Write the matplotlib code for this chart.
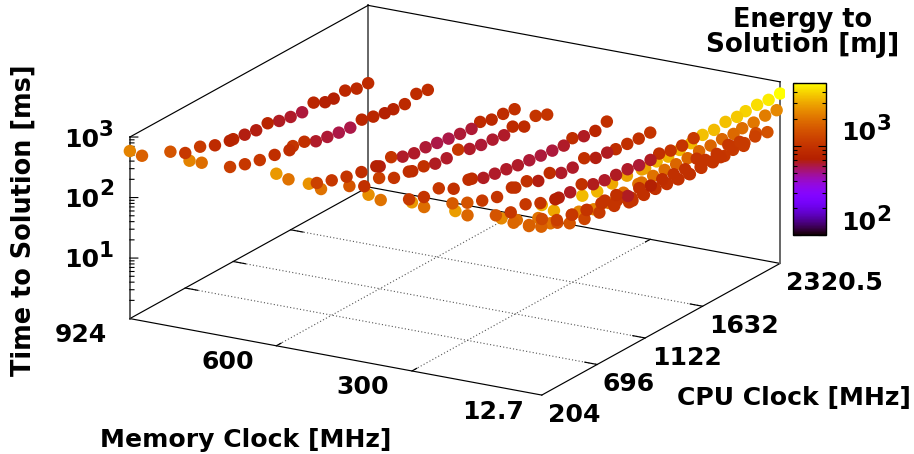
import numpy as np
import matplotlib
matplotlib.use('Agg')
import matplotlib.pyplot as plt
from matplotlib.colors import LogNorm
from matplotlib.cm import ScalarMappable
from matplotlib.ticker import LogLocator, NullFormatter

W, H = 914, 454

cpu_clock = [204, 312, 564, 696, 828, 960, 1092, 1122, 1224, 1326, 1428, 1530, 1632, 1734,
             1836, 1938, 2014.5, 2116.5, 2218.5, 2320.5]
mem_clock = [12.75, 20.4, 40.8, 68, 102, 204, 300, 396, 528, 600, 792, 924]

# time to solution [ms], one row per memory clock
time_12 = [1382, 862, 840, 722, 716, 705, 654, 637, 649, 612, 620, 629, 678, 644, 686, 652, 676, 675, 642, 641]
time_20 = [822, 521, 446, 358, 333, 360, 367, 362, 365, 360, 351, 347, 356, 346, 347, 333, 345, 336, 344, 332]
time_40 = [590, 429, 269, 232, 216, 204, 171, 170, 166, 164, 155, 146, 139, 139, 135, 135, 142, 144, 165, 135]
time_68 = [654, 403, 252, 250, 219, 207, 167, 177, 136, 123, 121, 115, 106, 101, 103, 99.7, 98.4, 116, 93.4, 105]
time_102 = [626, 410, 260, 183, 164, 144, 136, 140, 136, 103, 109, 94.2, 94.4, 89.7, 85.3, 100, 79.6, 78.6, 87.0, 76.6]
time_204 = [597, 393, 216, 177, 176, 135, 114, 113, 109, 116, 91.3, 83.5, 80.3, 78.3, 71.7, 68.9, 73.1, 64.4, 61.2, 63.7]
time_300 = [612, 396, 251, 188, 149, 125, 131, 122, 122, 96.9, 103, 81.1, 78.0, 87.6, 69.6, 66.9, 63.6, 61.1, 58.7, 58.0]
time_396 = [601, 381, 215, 172, 175, 126, 130, 126, 102, 94.1, 87.5, 80.0, 76.0, 71.2, 67.6, 64.3, 71.1, 60.3, 57.9, 64.9]
time_528 = [599, 379, 234, 170, 170, 125, 116, 110, 104, 90.3, 87.2, 95.0, 76.7, 70.1, 67.4, 62.6, 72.5, 57.0, 67.3, 55.5]
time_600 = [697, 436, 209, 169, 142, 124, 113, 105, 117, 93.7, 83.8, 82.7, 76.5, 70.8, 66.6, 63.3, 68.9, 59.1, 57.7, 54.2]
time_792 = [619, 444, 208, 169, 145, 129, 113, 123, 114, 91.2, 84.4, 78.1, 74.2, 79.0, 69.6, 62.3, 60.5, 57.7, 66.9, 61.2]
time_924 = [587, 380, 244, 170, 158, 122, 106, 105, 97.8, 90.9, 93.2, 79.9, 73.1, 68.7, 77.8, 62.1, 59.4, 63.3, 53.6, 51.8]

# energy to solution [mJ]
energy_12 = [3200, 3000, 3400, 3300, 3000, 2900, 2900, 2900, 3200, 3200, 3300, 3400, 3500, 3400, 3500, 3700, 3900, 4200, 4500, 5000]
energy_20 = [2000, 2000, 2300, 2300, 2100, 2000, 2000, 2000, 2000, 1900, 1800, 1800, 1800, 1800, 1800, 1850, 1900, 2100, 2200, 2400]
energy_40 = [1700, 1700, 1500, 1250, 1100, 1000, 1000, 1000, 1000, 950, 950, 950, 1000, 1000, 1000, 1050, 1100, 1150, 1350, 1450]
energy_68 = [1900, 1700, 1400, 1150, 1050, 1050, 1000, 1000, 1000, 950, 950, 950, 950, 950, 1000, 1000, 1000, 1050, 1100, 1200]
energy_102 = [2400, 1800, 1300, 1150, 1050, 1000, 1000, 1000, 950, 650, 950, 700, 900, 950, 950, 1000, 1000, 1000, 1050, 1100]
energy_204 = [2800, 1800, 1500, 1050, 1050, 1000, 700, 680, 650, 950, 660, 640, 650, 640, 620, 650, 950, 1000, 1000, 1100]
energy_300 = [2700, 1900, 1600, 1500, 1100, 1000, 950, 950, 950, 680, 900, 640, 640, 950, 680, 650, 900, 950, 950, 1000]
energy_396 = [2500, 2000, 1100, 1000, 1050, 950, 900, 880, 650, 640, 640, 640, 620, 610, 610, 640, 900, 650, 800, 950]
energy_528 = [2600, 2000, 1500, 950, 1150, 1000, 900, 880, 950, 650, 640, 1050, 640, 620, 630, 640, 880, 870, 1000, 1000]
energy_600 = [2700, 2000, 1200, 1050, 1000, 900, 700, 680, 1000, 640, 640, 620, 600, 600, 620, 620, 880, 850, 870, 950]
energy_792 = [2300, 1900, 1150, 1050, 1050, 920, 900, 1000, 950, 640, 620, 600, 600, 800, 800, 700, 760, 850, 880, 900]
energy_924 = [2300, 1700, 1500, 1050, 1100, 880, 760, 780, 680, 680, 790, 650, 640, 610, 800, 700, 700, 830, 850, 880]

time_rows = [time_12, time_20, time_40, time_68, time_102, time_204, time_300, time_396, time_528, time_600, time_792, time_924]
energy_rows = [energy_12, energy_20, energy_40, energy_68, energy_102, energy_204, energy_300, energy_396, energy_528, energy_600, energy_792, energy_924]

mem_ticks = [600, 300]
cpu_ticks = [696, 1122, 1632]
mem_lo, mem_hi = 12.75, 924
cpu_lo, cpu_hi = 204, 2320.5

fig = plt.figure(figsize=(W / 100, H / 100), dpi=100)
L = 679
ax = fig.add_axes([106.3 / W, -94.9 / H, L / W, L / H], projection='3d', proj_type='ortho')
ax.set_box_aspect((476, 475, 191.6))
ax.view_init(elev=18.68, azim=-59.9)
ax.set_xlim(mem_hi, mem_lo)
ax.set_ylim(cpu_lo, cpu_hi)
ax.set_zlim(0, 3)
ax.set_axis_off()
ax.computed_zorder = False

norm = LogNorm(100, 5050)
cmap = 'gnuplot'

def seg(p0, p1, color='black', lw=0.85, ls='-', z=1):
    ax.plot([p0[0], p1[0]], [p0[1], p1[1]], [p0[2], p1[2]], color=color, lw=lw, ls=ls, zorder=z)

# box
seg((mem_hi, cpu_lo, 0), (mem_lo, cpu_lo, 0))
seg((mem_lo, cpu_lo, 0), (mem_lo, cpu_hi, 0))
seg((mem_lo, cpu_hi, 0), (mem_hi, cpu_hi, 0))
seg((mem_hi, cpu_hi, 0), (mem_hi, cpu_lo, 0))
seg((mem_hi, cpu_lo, 0), (mem_hi, cpu_lo, 3), color='#333333', lw=1.1)
seg((mem_hi, cpu_hi, 0), (mem_hi, cpu_hi, 3), color='#666666', lw=1.4)
seg((mem_lo, cpu_hi, 0), (mem_lo, cpu_hi, 3), color='#666666', lw=1.4)
seg((mem_hi, cpu_lo, 3), (mem_hi, cpu_hi, 3))
seg((mem_hi, cpu_hi, 3), (mem_lo, cpu_hi, 3))

# grid and base ticks
mem_span = mem_hi - mem_lo
cpu_span = cpu_hi - cpu_lo
for m in mem_ticks:
    seg((m, cpu_lo, 0), (m, cpu_hi, 0), color='#555555', lw=0.8, ls=(0, (1, 2)))
    seg((m, cpu_lo, 0), (m, cpu_lo + 0.02 * cpu_span, 0))
    seg((m, cpu_hi, 0), (m, cpu_hi - 0.02 * cpu_span, 0))
for c in cpu_ticks:
    seg((mem_hi, c, 0), (mem_lo, c, 0), color='#555555', lw=0.8, ls=(0, (1, 2)))
    seg((mem_hi, c, 0), (mem_hi - 0.03 * mem_span, c, 0))
    seg((mem_lo, c, 0), (mem_lo + 0.03 * mem_span, c, 0))

# z ticks, flat on screen
for dec in range(3):
    for sub in range(1, 10):
        v = dec + np.log10(sub)
        a = 0.0145 if sub == 1 else 0.0075
        if dec == 0 and sub == 1:
            continue
        seg((mem_hi, cpu_lo, v), (mem_hi - a * mem_span, cpu_lo + 0.582 * a * cpu_span, v), lw=0.8)
seg((mem_hi, cpu_lo, 3), (mem_hi - 0.0145 * mem_span, cpu_lo + 0.582 * 0.0145 * cpu_span, 3), lw=0.8)

# higher memory clocks sit on top
for i, mem in enumerate(mem_clock):
    ax.scatter(np.full(len(cpu_clock), mem), cpu_clock, np.log10(time_rows[i]), c=energy_rows[i],
               cmap=cmap, norm=norm, s=80, linewidths=0, alpha=1, depthshade=False, zorder=3 + i)

# colour bar
cax = fig.add_axes([792.7 / W, 1 - 235.3 / H, 33 / W, 152.6 / H])
cb = fig.colorbar(ScalarMappable(norm=norm, cmap=cmap), cax=cax)
cax.yaxis.set_major_locator(LogLocator(base=10, subs=[1], numticks=5))
cax.yaxis.set_minor_locator(LogLocator(base=10, subs=range(2, 10), numticks=12))
cax.yaxis.set_minor_formatter(NullFormatter())
cax.tick_params(which='major', direction='in', left=True, right=True, length=5.5, width=0.8, labelleft=False, labelright=False)
cax.tick_params(which='minor', direction='in', left=True, right=True, length=3, width=0.8, labelleft=False, labelright=False)
cb.outline.set_linewidth(1.0)

FS = 18.1

def put(x, y, s, size=FS, ha='center', rot=0):
    fig.text(x / W, 1 - y / H, s, fontsize=size, fontweight='bold', family='DejaVu Sans',
             ha=ha, va='center', rotation=rot, color='black')

put(81, 335, '924')
put(227.5, 361.7, '600')
put(363, 387, '300')
put(493.5, 412, '12.7')
put(574, 415, '204')
put(629, 384.3, '696')
put(687, 357.7, '1122')
put(744, 326, '1632')
put(834, 282.7, '2320.5')
put(793.5, 398, 'CPU Clock [MHz]')
put(245.5, 440, 'Memory Clock [MHz]')
put(24, 220, 'Time to Solution [ms]', size=18.4, rot=90)
put(802.5, 20, 'Energy to', size=18.4)
put(802.5, 45, 'Solution [mJ]', size=18.9)

for y, yexp, e in [(140, 130, '3'), (200, 189, '2'), (260, 251, '1')]:
    put(81.5, y, '10')
    put(106.5, yexp, e, size=15.5)
for y, yexp, e in [(133, 124, '3'), (223, 215, '2')]:
    put(859, y, '10')
    put(884, yexp, e, size=15.5)

fig.savefig('out.png', dpi=100)
